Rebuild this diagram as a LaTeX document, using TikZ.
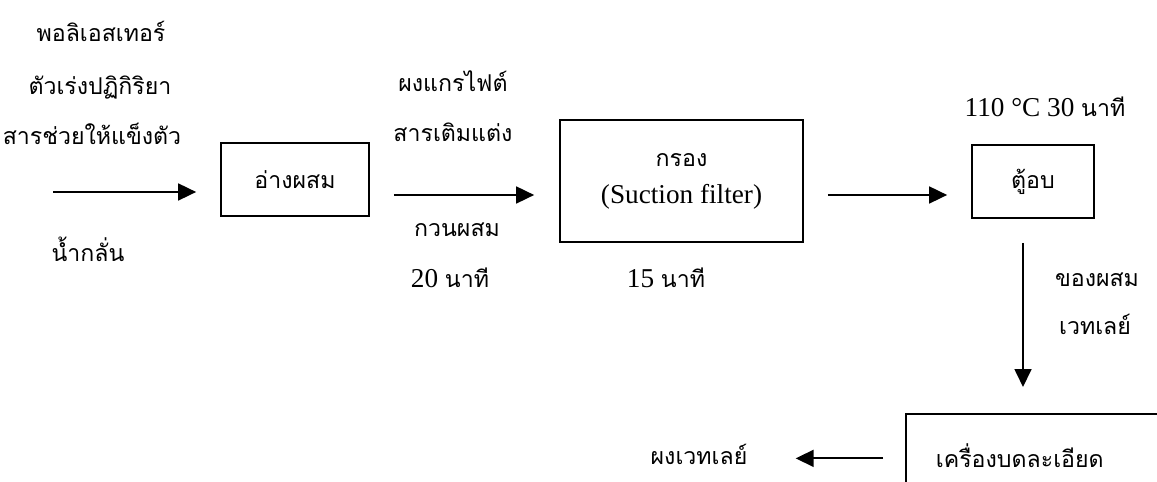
\documentclass[tikz,border=0pt]{standalone}
\usepackage{fontspec}
\setmainfont{Liberation Serif}
\newfontfamily\thaifont[Script=Thai,Scale=0.85]{Loma}
\usepackage{tikz}
\usetikzlibrary{positioning,arrows.meta}

\begin{document}
\begin{tikzpicture}[
  x=0.02cm, y=-0.02cm,
  every node/.style={font=\fontsize{15.5}{21}\selectfont},
  unit/.style={rectangle, draw=black, line width=1pt, inner sep=0pt, align=center},
  thaitext/.style={font=\fontsize{15.5}{21}\selectfont\thaifont, anchor=base, inner sep=0pt},
  note/.style={anchor=base, inner sep=0pt},
  flow/.style={-{Triangle[length=0.36cm,width=0.34cm]}, line width=1pt, draw=black}
]
\useasboundingbox (0,0) rectangle (1157,482);
\clip (0,0) rectangle (1157,482);
% process units
\node[unit, minimum width=2.96cm, minimum height=1.46cm] (mix)    at (295,179.5) {\thaifont อ่างผสม};
\node[unit, minimum width=4.86cm, minimum height=2.44cm] (filter) at (681.5,181) {{\thaifont กรอง}\\(Suction filter)};
\node[unit, minimum width=2.44cm, minimum height=1.46cm] (oven)   at (1033,181.5) {\thaifont ตู้อบ};
\node[unit, anchor=north west, inner xsep=0.6cm, text width=4.28cm, align=left,
      minimum height=1.66cm] (grind) at (905,413) {\thaifont เครื่องบดละเอียด};
% feed materials
\node[thaitext] (poly)  at (101,42)  {พอลิเอสเทอร์};
\node[thaitext] (cat)   at (100,95)  {ตัวเร่งปฏิกิริยา};
\node[thaitext] (hard)  at (92,145)  {สารช่วยให้แข็งตัว};
\node[thaitext] (water) at (88,262)  {น้ำกลั่น};
\coordinate (feed) at (53,192);
% conditions
\node[thaitext] (graph) at (453,92)  {ผงแกรไฟต์};
\node[thaitext] (addit) at (453,142) {สารเติมแต่ง};
\node[thaitext] (stir)  at (457,237) {กวนผสม};
\node[note] (stirtime)  at (450,288) {20 {\thaifont นาที}};
\node[note] (filttime)  at (666,288) {15 {\thaifont นาที}};
\node[note] (oventime)  at (1045,117) {110 °C 30 {\thaifont นาที}};
\node[thaitext] (wet)   at (1097,287) {ของผสม};
\node[thaitext] (wetl)  at (1095,335) {เวทเลย์};
\node[thaitext] (powder) at (699,465) {ผงเวทเลย์};
% flow lines
\draw[flow, shorten >=0.48cm] (feed) -- (feed -| mix.west);
\draw[flow, shorten <=0.48cm, shorten >=0.5cm]
  ([yshift=-0.31cm]mix.east) -- ([yshift=-0.31cm]mix.east -| filter.west);
\draw[flow, shorten <=0.48cm, shorten >=0.48cm]
  ([yshift=-0.28cm]filter.east) -- ([yshift=-0.28cm]filter.east -| oven.west);
\draw[flow, shorten <=0.48cm, shorten >=0.52cm]
  ([xshift=-0.2cm]oven.south) -- ([xshift=-0.2cm]oven.south |- grind.north);
\draw[flow, shorten <=0.44cm, shorten >=0.96cm]
  ([yshift=-0.06cm]grind.west) -- ([yshift=-0.06cm]grind.west -| powder.east);
\end{tikzpicture}
\end{document}
